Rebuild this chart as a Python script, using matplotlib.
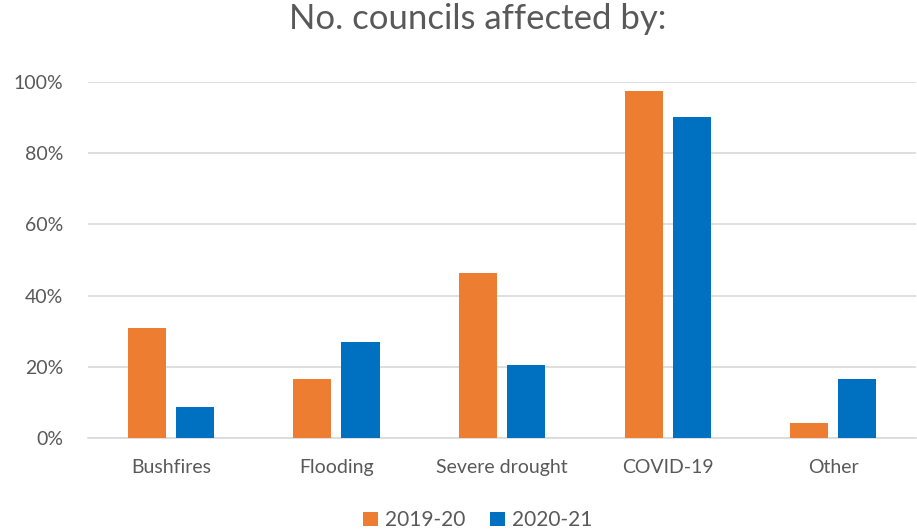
import numpy as np
import matplotlib.pyplot as plt
from matplotlib.ticker import PercentFormatter

categories = ["Bushfires", "Flooding", "Severe drought", "COVID-19", "Other"]
series_names = ["2019-20", "2020-21"]
values_2019 = [31.0, 16.6, 46.3, 97.4, 4.1]
values_2020 = [8.6, 27.1, 20.5, 90.1, 16.6]
colors = ["#ED7D31", "#0070C0"]

plt.rcParams['font.family'] = ['Lato', 'DejaVu Sans']

fig = plt.figure(figsize=(9.17, 5.29), dpi=100)
ax = fig.add_axes([0.096, 0.172, 0.903, 0.673])

x = np.arange(len(categories))
bar_width = 0.23
offset = 0.145
ax.bar(x - offset, values_2019, bar_width, color=colors[0], label=series_names[0], zorder=3)
ax.bar(x + offset, values_2020, bar_width, color=colors[1], label=series_names[1], zorder=3)

ax.set_xlim(-0.5, len(categories) - 0.5)
ax.set_ylim(0, 100)
ax.set_yticks(np.arange(0, 101, 20))
ax.yaxis.set_major_formatter(PercentFormatter(decimals=0))
ax.grid(axis='y', color='#D9D9D9', linewidth=1.2, zorder=0)
for s in ['top', 'right', 'left']:
    ax.spines[s].set_visible(False)
ax.spines['bottom'].set_color('#D9D9D9')
ax.spines['bottom'].set_linewidth(1.2)

ax.set_xticks(x, categories)
ax.tick_params(axis='both', length=0, labelsize=14, labelcolor='#595959')
ax.tick_params(axis='y', pad=18)
ax.tick_params(axis='x', pad=15)

fig.suptitle("No. councils affected by:", fontsize=25, color='#595959', x=0.521, y=0.995)
fig.legend(loc='lower center', ncol=2, frameon=False, fontsize=15,
           labelcolor='#595959', handlelength=0.7, handleheight=0.7,
           handletextpad=0.35, columnspacing=1.2, bbox_to_anchor=(0.521, -0.038))

plt.savefig("out.png", dpi=100)
